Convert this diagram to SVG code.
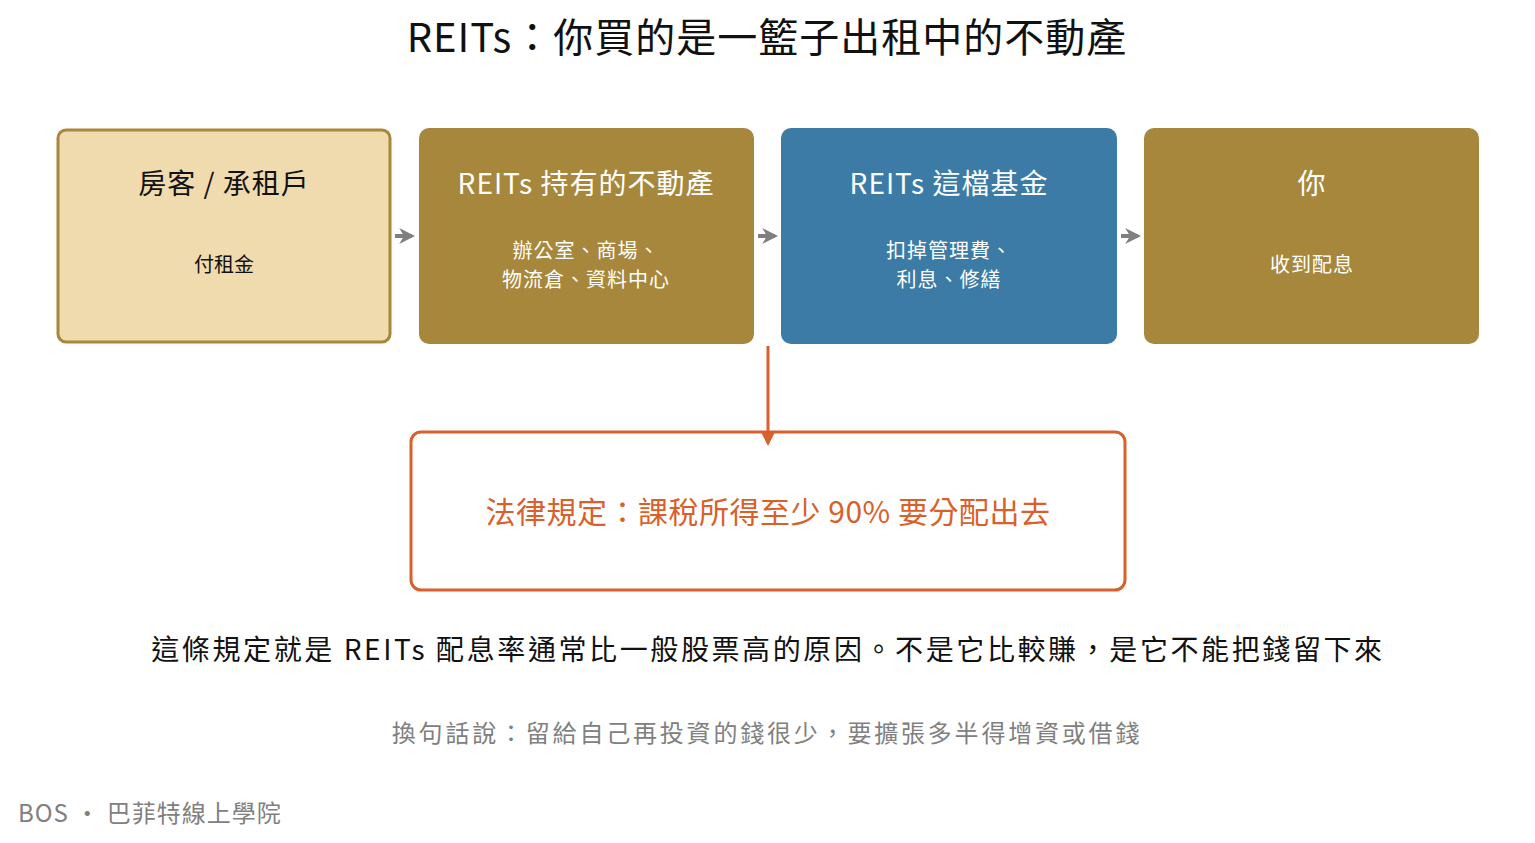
<svg xmlns="http://www.w3.org/2000/svg" width="1535" height="843" viewBox="0 0 1535 843">
<style>
text{font-family:"Noto Sans CJK TC","Noto Sans CJK SC",sans-serif;text-anchor:middle}
.t{font-size:28px;fill:#fff;letter-spacing:1px}
.s{font-size:20px;fill:#fff;letter-spacing:1px}
</style>
<defs>
<marker id="g" viewBox="0 0 10 10" refX="8" refY="5" markerWidth="4" markerHeight="4" orient="auto"><path d="M0,0L10,5L0,10L3,5Z" fill="#808080"/></marker>
<marker id="o" viewBox="0 0 10 10" refX="8" refY="5" markerWidth="5" markerHeight="5" orient="auto"><path d="M0,0L10,5L0,10Z" fill="#d95f2b"/></marker>
</defs>
<rect width="1535" height="843" fill="#fff"/>
<text x="767" y="52" font-size="40" fill="#111" letter-spacing="1">REITs：你買的是一籃子出租中的不動產</text>
<g id="n1"><rect x="58" y="130" width="332" height="212" rx="8" fill="#efdbae" stroke="#a8873c" stroke-width="3"/>
<text x="224" y="194" font-size="28" fill="#111" letter-spacing="1">房客 / 承租戶</text><text x="224" y="272" font-size="20" fill="#111">付租金</text></g>
<g id="n2"><rect x="419" y="128" width="335" height="216" rx="10" fill="#a7873c"/>
<text class="t" x="586" y="194">REITs 持有的不動產</text><text class="s" x="586" y="258">辦公室、商場、</text><text class="s" x="586" y="287">物流倉、資料中心</text></g>
<g id="n3"><rect x="781" y="128" width="336" height="216" rx="10" fill="#3b7ba6"/>
<text class="t" x="949" y="194">REITs 這檔基金</text><text class="s" x="949" y="258">扣掉管理費、</text><text class="s" x="949" y="287">利息、修繕</text></g>
<g id="n4"><rect x="1144" y="128" width="335" height="216" rx="10" fill="#a7873c"/>
<text class="t" x="1312" y="194">你</text><text class="s" x="1312" y="272">收到配息</text></g>
<g id="n5"><rect x="411" y="432" width="714" height="158" rx="10" fill="#fff" stroke="#d95f2b" stroke-width="3"/>
<text x="768" y="523" font-size="30" fill="#d95f2b" letter-spacing="0.5">法律規定：課稅所得至少 90% 要分配出去</text></g>
<g id="edges" fill="none">
<line x1="395" y1="236" x2="412" y2="236" stroke="#808080" stroke-width="4" marker-end="url(#g)"/>
<line x1="758" y1="236" x2="775" y2="236" stroke="#808080" stroke-width="4" marker-end="url(#g)"/>
<line x1="1121" y1="236" x2="1138" y2="236" stroke="#808080" stroke-width="4" marker-end="url(#g)"/>
<line x1="768" y1="346" x2="768" y2="443" stroke="#d95f2b" stroke-width="3" marker-end="url(#o)"/>
</g>
<text x="768" y="660" font-size="28" fill="#111" letter-spacing="2.6">這條規定就是 REITs 配息率通常比一般股票高的原因。不是它比較賺，是它不能把錢留下來</text>
<text x="767" y="742" font-size="24" fill="#808080" letter-spacing="2.8">換句話說：留給自己再投資的錢很少，要擴張多半得增資或借錢</text>
<text x="18" y="822" font-size="24" fill="#808080" style="text-anchor:start" letter-spacing="1">BOS ·  巴菲特線上學院</text>
</svg>
